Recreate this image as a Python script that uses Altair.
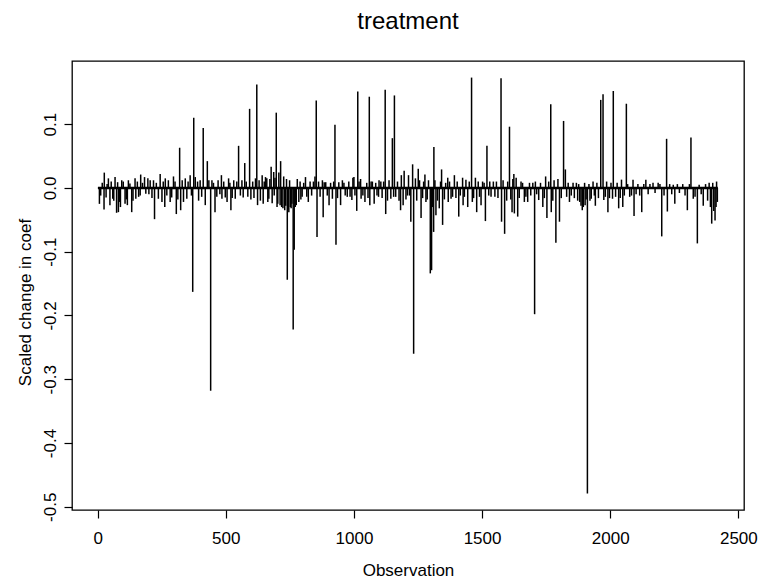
import altair as alt
import pandas as pd

# Observation index of each visible spike and its scaled change in coef
obs = [
    7, 25, 26, 42, 48, 59, 68, 74, 81, 89, 94, 107, 116, 120, 133, 146, 149, 166, 168, 183,
    188, 196, 218, 222, 237, 244, 251, 262, 264, 283, 296, 307, 320, 324, 335, 342, 348, 361,
    371, 375, 381, 400, 412, 420, 428, 441, 446, 458, 483, 485, 505, 511, 520, 531, 537, 550,
    557, 574, 586, 593, 616, 621, 624, 642, 646, 655, 668, 677, 687, 689, 697, 703, 707, 712,
    714, 723, 730, 740, 746, 749, 755, 763, 767, 775, 779, 785, 798, 811, 822, 848, 853, 856,
    877, 880, 890, 903, 916, 926, 930, 948, 955, 974, 992, 996, 1000, 1011, 1015, 1026, 1028,
    1043, 1060, 1062, 1072, 1079, 1096, 1098, 1122, 1124, 1144, 1150, 1158, 1163, 1182, 1185,
    1192, 1196, 1209, 1213, 1222, 1229, 1233,
    1251, 1262, 1277, 1281, 1298, 1303, 1311, 1312, 1320, 1333, 1342, 1346, 1366, 1368, 1379,
    1392, 1409, 1424, 1426, 1437, 1444, 1459, 1462, 1474, 1479, 1496, 1502, 1513, 1519, 1535,
    1544, 1574, 1576, 1588, 1607, 1617, 1624, 1626, 1633, 1639, 1652, 1665, 1678, 1705, 1708,
    1721, 1737, 1748, 1753, 1768, 1770, 1788, 1796, 1802, 1818, 1825, 1841, 1855, 1868, 1881,
    1891, 1900, 1902, 1911, 1926, 1933, 1942, 1963, 1972, 1975, 1991, 2009, 2012, 2033, 2044,
    2049, 2063, 2076, 2089, 2093, 2123, 2139, 2167, 2187, 2201, 2220, 2223, 2246, 2252, 2301,
    2315, 2324, 2340, 2347, 2363, 2396, 2400, 2409, 2415, 2418,
]
coef = [
    -0.025, -0.034, 0.024, 0.015, -0.027, -0.017, 0.017, -0.039, -0.038, -0.030, 0.012, -0.025,
    -0.027, 0.012, -0.038, 0.015, -0.017, -0.012, 0.021, 0.017,
    -0.009, 0.015, 0.012, -0.049, -0.017, 0.022, -0.022, -0.030, 0.015, -0.022, 0.018, -0.041,
    0.063, -0.035, -0.022, 0.015, -0.017, 0.020,
    -0.163, 0.110, 0.017, 0.012, 0.094, -0.027, 0.042, -0.318, 0.012, -0.038, 0.020, -0.017,
    -0.022, 0.015, -0.035, 0.012, -0.017, 0.066,
    -0.012, 0.039, -0.014, 0.124, 0.015, 0.162, -0.027, 0.020, -0.025, 0.017, -0.017, 0.033,
    0.025, -0.012, 0.118, -0.025, 0.024, -0.027,
    0.042, -0.032, -0.035, -0.144, -0.038, 0.012, -0.032, -0.222, -0.097, -0.027, 0.014, -0.022,
    -0.014, 0.017, -0.022, 0.018, 0.137, -0.077,
    0.012, -0.046, 0.009, -0.027, -0.017, 0.099, -0.089, -0.027, 0.012, -0.014, -0.019, 0.016,
    0.017, -0.036, 0.151, 0.014, -0.017,
    -0.022, 0.143, -0.027, 0.010, -0.025, -0.014, 0.012, 0.154, -0.041, -0.017, 0.078, 0.145,
    -0.014, -0.035, 0.020,
    -0.027, 0.027, -0.012, 0.020, -0.053, 0.037, -0.260,
    0.030, -0.047, 0.021, -0.022, -0.134, -0.129, -0.069, 0.064, -0.043, -0.032, 0.029, -0.058,
    0.016, -0.022, -0.017,
    0.020, -0.045, 0.016, -0.027, 0.013, -0.030, 0.173, -0.022, 0.016, -0.038, -0.027, 0.010,
    -0.052, 0.066, -0.014,
    0.010, 0.172, -0.053, -0.072, 0.096, -0.038, 0.022, -0.040, 0.016, -0.045, 0.010, -0.022,
    -0.022, -0.198, 0.010,
    -0.019, -0.030, 0.018, -0.047, 0.131, -0.038, -0.086, 0.014, -0.053, 0.105, 0.029, -0.022,
    0.008, 0.008, -0.022,
    -0.035, 0.008, -0.027, -0.479, -0.017, 0.010, -0.028, 0.138, 0.147, -0.019, -0.038, -0.017,
    0.152, -0.032, 0.013,
    -0.030, 0.132, -0.014, 0.013, -0.044, -0.038, 0.013, 0.008, 0.008, -0.076, 0.077, -0.037,
    0.005, -0.025, -0.035,
    0.079, -0.017, -0.087, 0.005, -0.028, -0.056, 0.008, -0.051, 0.010, -0.022,
]

# Many tiny spikes that make up the dark band around zero
small_obs = [
    12, 18, 33, 37, 53, 63, 78, 85, 100, 112, 126, 138, 155, 160, 175, 200, 205, 212, 229, 256,
    270, 276, 289, 302, 313, 330, 353, 366, 390, 394, 406, 434, 452, 465, 470, 477, 492, 498,
    516, 525, 543, 563, 568, 580, 598, 605, 610, 630, 635, 650, 660, 664, 672, 681, 692, 700,
    718, 726, 734, 737, 743, 752, 758, 771, 790, 793, 804, 816, 829, 835, 842, 862, 868, 884,
    896, 909, 921, 936, 941, 961, 966, 980, 985, 1004, 1020, 1035, 1050, 1055, 1067, 1085,
    1090, 1105, 1110, 1116, 1131, 1137, 1155, 1170, 1176, 1203, 1217, 1240, 1245, 1256, 1268,
    1272, 1286, 1291, 1307, 1316, 1326, 1338, 1353, 1358, 1373, 1385, 1398, 1403, 1415, 1431,
    1450, 1467, 1485, 1490, 1508, 1526, 1530, 1550, 1556, 1562, 1582, 1596, 1600, 1612, 1620,
    1645, 1658, 1671, 1685, 1690, 1698, 1713, 1728, 1743, 1760, 1776, 1781, 1809, 1830, 1836,
    1848, 1860, 1873, 1877, 1886, 1895, 1906, 1917, 1921, 1938, 1948, 1954, 1981, 1986, 1997,
    2003, 2021, 2027, 2039, 2055, 2068, 2083, 2101, 2108, 2115, 2131, 2148, 2155, 2175, 2194,
    2210, 2232, 2240, 2262, 2270, 2283, 2292, 2309, 2331, 2355, 2372, 2380, 2386, 2391, 2404,
    2413,
]
small_coef = [
    -0.012, 0.008, -0.015, 0.006, 0.010, -0.020, 0.009, -0.022, 0.010, -0.018, 0.007, -0.020,
    0.010, -0.014, 0.008, -0.010, 0.012, -0.016, 0.008, 0.010,
    -0.012, 0.012, -0.015, 0.010, -0.018, 0.012, 0.010, -0.012, 0.010, -0.020, -0.014, 0.012,
    0.008, -0.014, 0.012, -0.010, 0.010, -0.015,
    0.008, -0.016, 0.010, 0.012, -0.015, 0.010, -0.018, 0.010, -0.016, 0.012, -0.020, 0.010,
    0.015, -0.022, 0.014, -0.024, 0.016, -0.030,
    -0.030, 0.018, -0.028, 0.014, -0.034, -0.030, -0.025, -0.030, 0.010, -0.018, 0.008, -0.014,
    0.010, -0.012, 0.010, 0.010, -0.014, 0.009,
    -0.012, 0.008, 0.010, -0.016, 0.009, 0.008, -0.012, 0.010, -0.014, -0.012, 0.010, -0.012,
    0.008, -0.016, 0.010, 0.008,
    -0.012, 0.010, -0.016, 0.010, -0.020, 0.012, -0.014, 0.010, -0.020, -0.018, -0.012, 0.015,
    -0.020, 0.012, -0.016,
    0.010, -0.018, 0.012, -0.030, 0.012, -0.020, 0.010, -0.018, 0.008, 0.010, -0.014, -0.016,
    0.010, -0.012, -0.014,
    0.010, -0.016, 0.010, -0.014, 0.008, -0.012, 0.010, -0.014, 0.010, -0.016, 0.012, -0.020,
    0.010, -0.018, 0.014,
    -0.016, 0.008, -0.014, 0.008, -0.012, 0.008, -0.010, 0.008, -0.016, 0.010, -0.020, 0.012,
    -0.016, -0.014, 0.008,
    -0.012, -0.016, -0.020, 0.006, -0.028, -0.030, -0.018, 0.006, -0.020, -0.012, 0.008, -0.016,
    -0.014, 0.010, -0.016,
    0.008, -0.014, 0.008, -0.016, -0.012, 0.006, -0.012, -0.010, 0.006, -0.012, 0.006, -0.010,
    0.006, -0.008, 0.006,
    -0.012, 0.006, -0.010, 0.006, -0.008, 0.006, -0.012, 0.006, -0.014, -0.010, 0.006, -0.020,
    0.008, -0.030, -0.036,
    -0.030,
]

x_ticks = [0, 500, 1000, 1500, 2000, 2500]
y_ticks = [-0.5, -0.4, -0.3, -0.2, -0.1, 0.0, 0.1]
first_obs, last_obs = 1, 2420

FONT = "Liberation Sans Narrow, Liberation Sans, Arial"

df = pd.DataFrame({"obs": obs + small_obs, "coef": coef + small_coef})
df["zero"] = 0.0
base_df = pd.DataFrame({"obs": [first_obs], "obs2": [last_obs], "coef": [0.0]})

x_scale = alt.Scale(domain=[-100, 2522], nice=False, zero=False)
y_scale = alt.Scale(domain=[-0.505, 0.199], nice=False, zero=False)

x_axis = alt.Axis(
    values=x_ticks, title="Observation", format="d",
    labelBaseline="middle", labelPadding=20, titleY=60, titleBaseline="middle",
)
y_axis = alt.Axis(
    values=y_ticks, title="Scaled change in coef",
    labelExpr="(datum.value < -0.0001 ? '-' : '') + format(abs(datum.value), '.1f')",
    labelAngle=270, labelAlign="center", labelBaseline="middle", labelPadding=14,
    titleAngle=270, titleX=-47, titleY=241, titleBaseline="middle", titleAlign="center",
)

spikes = alt.Chart(df).mark_rule(color="black", strokeWidth=1.5).encode(
    x=alt.X("obs:Q", scale=x_scale, axis=x_axis),
    y=alt.Y("coef:Q", scale=y_scale, axis=y_axis),
    y2="zero:Q",
)
baseline = alt.Chart(base_df).mark_rule(color="black", strokeWidth=2.5).encode(
    x=alt.X("obs:Q", scale=x_scale, axis=x_axis),
    x2="obs2:Q",
    y=alt.Y("coef:Q", scale=y_scale, axis=y_axis),
)

chart = (
    alt.layer(baseline, spikes)
    .properties(
        width=672, height=449,
        padding={"left": 72, "top": 61, "right": 15, "bottom": 72},
        autosize="none",
        background="white",
        title=alt.Title("treatment", fontSize=24, font=FONT, fontWeight="normal",
                        anchor="middle", baseline="alphabetic", offset=8, color="black"),
    )
    .configure_view(stroke="black", strokeWidth=1.3)
    .configure_axis(
        domain=False, grid=False, ticks=True, tickSize=8, tickWidth=1.2, tickColor="black",
        labelFont=FONT, labelFontSize=17, labelColor="black",
        titleFont=FONT, titleFontSize=17, titleFontWeight="normal", titleColor="black",
    )
)

chart.save("out.html", embed_options={"renderer": "svg", "actions": False})
